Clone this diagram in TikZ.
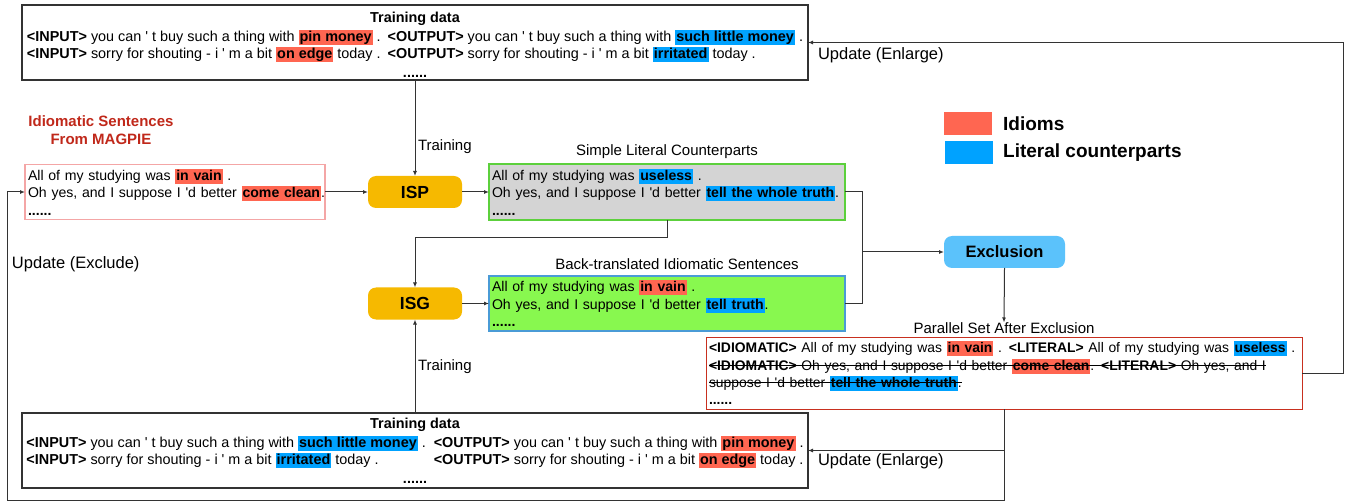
\documentclass[tikz,border=0pt]{standalone}
\usepackage{fontspec}
\setmainfont{Liberation Sans}
\usetikzlibrary{arrows.meta}
\definecolor{idc}{HTML}{FF6651}
\definecolor{ltc}{HTML}{00A2FF}
\definecolor{modc}{HTML}{F6B900}
\definecolor{exc}{HTML}{5BC2FB}
\definecolor{grayf}{HTML}{D4D4D4}
\definecolor{greenb}{HTML}{5CD03C}
\definecolor{greenf}{HTML}{88F84F}
\definecolor{blueb}{HTML}{4A9BD6}
\definecolor{pinkb}{HTML}{F4A6A6}
\definecolor{redb}{HTML}{C8301F}
\definecolor{titlec}{HTML}{C0281A}
\definecolor{linec}{HTML}{333333}
\newcommand\hlr[1]{{\setlength\fboxsep{1pt}\colorbox{idc}{\rule[-2.5pt]{0pt}{13pt}\textbf{#1}}}}
\newcommand\hlb[1]{{\setlength\fboxsep{1pt}\colorbox{ltc}{\rule[-2.5pt]{0pt}{13pt}\textbf{#1}}}}
\newcommand\strk[1]{\setbox0=\hbox{#1}\rlap{\copy0}\rule[0.3em]{\wd0}{0.8pt}}
\newcommand\ap{\textquotesingle}
\newcommand\down[2]{\raisebox{-#1}[\height][\depth]{#2}}
\tikzset{
  con/.style={draw=linec, line width=1pt},
  arr/.style={-{Latex[length=5pt,width=4pt]}},
  tbox/.style={draw=linec, line width=1.3pt, inner sep=0pt, outer sep=0pt, font=\fontsize{14.4}{17}\selectfont},
  sbox/.style={line width=1.3pt, inner xsep=3pt, inner ysep=0pt, outer sep=0pt, align=left, font=\fontsize{14.1}{17.3}\selectfont},
  model/.style={fill=modc, rounded corners=8pt, minimum width=94pt, minimum height=32pt, inner sep=0pt, outer sep=0pt, font=\fontsize{17.5}{20}\selectfont\bfseries},
  lab/.style={inner sep=0pt, outer sep=0pt, font=\fontsize{15}{17}\selectfont},
  upd/.style={inner sep=0pt, outer sep=0pt, anchor=west, font=\fontsize{16.5}{19}\selectfont},
}
\begin{document}
\begin{tikzpicture}[x=1pt,y=-1pt]
\useasboundingbox (0,0) rectangle (1348,502);
% training boxes
\node[tbox, minimum width=786pt, minimum height=75pt] (top) at (415,42.5) {\down{4pt}{%
\begin{tabular}{@{}l@{\hspace{7pt}}l@{}}
\multicolumn{2}{c}{\textbf{Training data}}\\[2pt]
\textbf{<INPUT>} you can \ap{} t buy such a thing with \hlr{pin money} . & \textbf{<OUTPUT>} you can \ap{} t buy such a thing with \hlb{such little money} .\\
\textbf{<INPUT>} sorry for shouting - i \ap{} m a bit \hlr{on edge} today . & \textbf{<OUTPUT>} sorry for shouting - i \ap{} m a bit \hlb{irritated} today .\\[2pt]
\multicolumn{2}{c}{\textbf{......}}
\end{tabular}}};
\node[tbox, minimum width=786pt, minimum height=75pt] (bot) at (415,450.5) {\down{2pt}{%
\begin{tabular}{@{}l@{\hspace{8pt}}l@{}}
\multicolumn{2}{c}{\textbf{Training data}}\\[2pt]
\textbf{<INPUT>} you can \ap{} t buy such a thing with \hlb{such little money} . & \textbf{<OUTPUT>} you can \ap{} t buy such a thing with \hlr{pin money} .\\
\textbf{<INPUT>} sorry for shouting - i \ap{} m a bit \hlb{irritated} today . & \textbf{<OUTPUT>} sorry for shouting - i \ap{} m a bit \hlr{on edge} today .\\[2pt]
\multicolumn{2}{c}{\textbf{......}}
\end{tabular}}};
% MAGPIE
\node[inner sep=0pt, align=center, text=titlec, font=\fontsize{15}{18}\selectfont\bfseries] (magt) at (101,130) {Idiomatic Sentences\\From MAGPIE};
\node[sbox, draw=pinkb, minimum width=300pt, minimum height=55pt, text width=294pt] (mag) at (175,192) {%
\mbox{All of my studying was \hlr{in vain} .}\\
\mbox{Oh yes, and I suppose I \ap d better \hlr{come clean}.}\\
\textbf{......}};
% models
\node[model] (isp) at (415,192) {ISP};
\node[model] (isg) at (415,303.5) {ISG};
% simple literal
\node[lab] (simlab) at (667,152) {Simple Literal Counterparts};
\node[sbox, draw=greenb, fill=grayf, minimum width=356pt, minimum height=56pt, text width=350pt] (simple) at (667,192) {%
\mbox{All of my studying was \hlb{useless} .}\\
\mbox{Oh yes, and I suppose I \ap d better \hlb{tell the whole truth}.}\\
\textbf{......}};
% back-translated
\node[lab] (btlab) at (677,264) {Back-translated Idiomatic Sentences};
\node[sbox, draw=blueb, fill=greenf, minimum width=356pt, minimum height=55pt, text width=350pt] (green) at (667,303.5) {%
\mbox{All of my studying was \hlr{in vain} .}\\
\mbox{Oh yes, and I suppose I \ap d better \hlb{tell truth}.}\\
\textbf{......}};
% exclusion
\node[fill=exc, rounded corners=8pt, minimum width=121pt, minimum height=32pt, inner sep=0pt, outer sep=0pt, font=\fontsize{16.5}{19}\selectfont\bfseries] (excl) at (1004.5,252) {Exclusion};
\node[lab] (parlab) at (1004,328) {Parallel Set After Exclusion};
\node[sbox, draw=redb, line width=1pt, minimum width=596pt, minimum height=72pt, text width=590pt, font=\fontsize{13.9}{17.2}\selectfont] (par) at (1004,373) {%
\mbox{\textbf{<IDIOMATIC>} All of my studying was \hlr{in vain} . \textbf{<LITERAL>} All of my studying was \hlb{useless} .}\\
\mbox{\strk{\textbf{<IDIOMATIC>} Oh yes, and I suppose I \ap d better \hlr{come clean}. \textbf{<LITERAL>} Oh yes, and I}}\\
\mbox{\strk{suppose I \ap d better \hlb{tell the whole truth}.}}\\
\textbf{......}};
% legend
\node[fill=idc, minimum width=48pt, minimum height=23pt, inner sep=0pt] (legr) at (968,123.5) {};
\node[fill=ltc, minimum width=48pt, minimum height=23pt, inner sep=0pt] (legb) at (969,152.5) {};
\node[inner sep=0pt, anchor=west, font=\fontsize{19}{22}\selectfont\bfseries] (legrt) at (1003,124) {Idioms};
\node[inner sep=0pt, anchor=west, font=\fontsize{19}{22}\selectfont\bfseries] (legbt) at (1003,153) {Literal counterparts};
% labels
\node[lab, anchor=west] (tr1) at (418,147) {Training};
\node[lab, anchor=west] (tr2) at (418,367) {Training};
\node[upd] (upd1) at (818,55) {Update (Enlarge)};
\node[upd] (upd2) at (818,461) {Update (Enlarge)};
\node[upd] (upd3) at (12,264) {Update (Exclude)};
% connectors
\draw[con,arr] (top.south) -- (isp.north);
\draw[con,arr] (bot.north) -- (isg.south);
\draw[con,arr] (mag.east) -- (isp.west);
\draw[con,arr] (isp.east) -- (simple.west);
\draw[con,arr] (isg.east) -- (green.west);
\draw[con,arr] (simple.south) -- ++(0,18) -| (isg.north);
\draw[con] (simple.east) -- ++(17,0) |- (green.east);
\coordinate (j) at (862,252);
\draw[con,arr] (j) -- (excl.west);
\draw[con,arr] (excl.south) -- (parlab.north);
\draw[con,arr] (par.east) -- ++(41,0) |- (top.east);
\coordinate (lb) at (7,500);
\draw[con,arr] (par.south) |- (lb) |- (mag.west);
\draw[con,arr] (par.south |- bot.east) -- (bot.east);
\end{tikzpicture}
\end{document}
